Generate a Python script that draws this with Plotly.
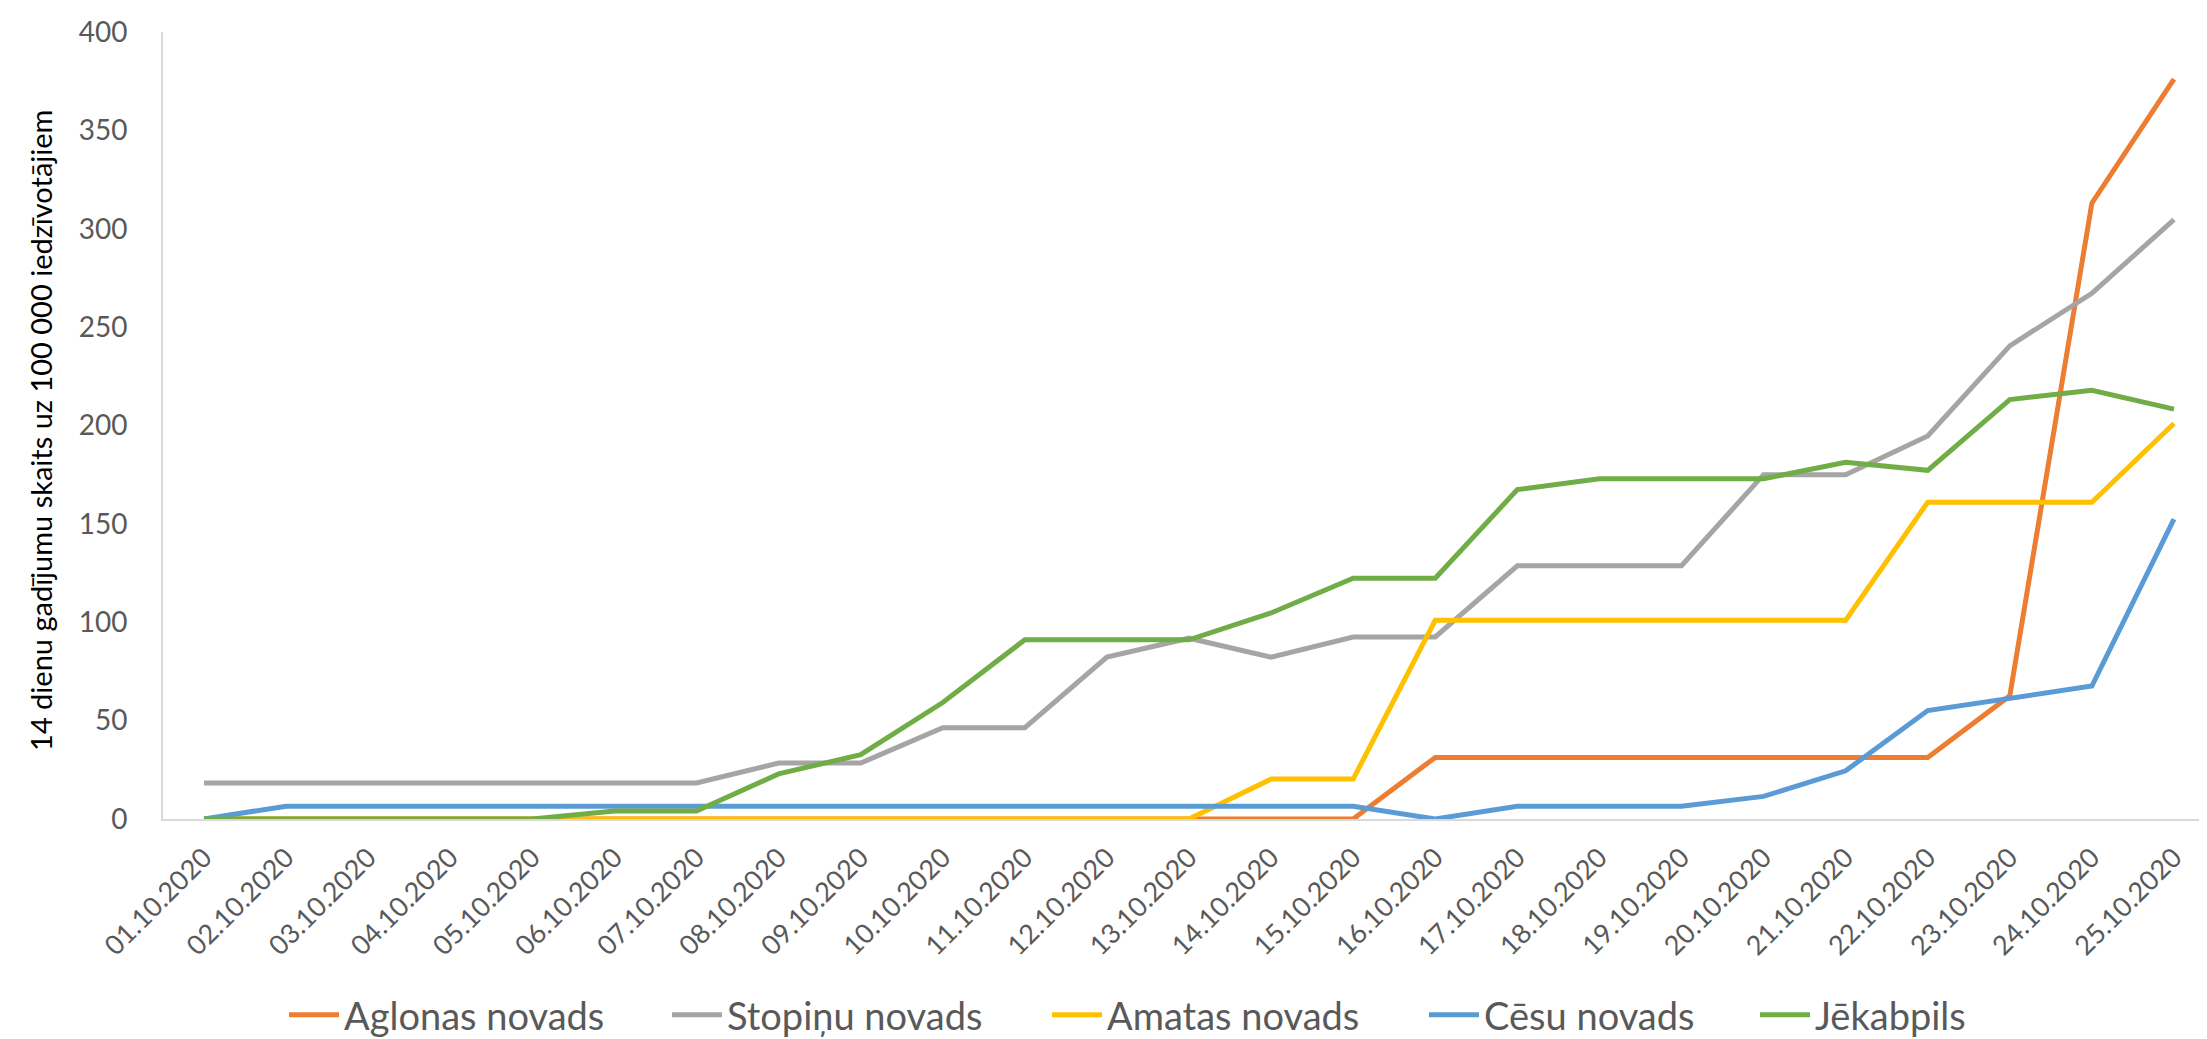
import plotly.graph_objects as go

dates = ["01.10.2020", "02.10.2020", "03.10.2020", "04.10.2020", "05.10.2020",
         "06.10.2020", "07.10.2020", "08.10.2020", "09.10.2020", "10.10.2020",
         "11.10.2020", "12.10.2020", "13.10.2020", "14.10.2020", "15.10.2020",
         "16.10.2020", "17.10.2020", "18.10.2020", "19.10.2020", "20.10.2020",
         "21.10.2020", "22.10.2020", "23.10.2020", "24.10.2020", "25.10.2020"]

aglonas = [0, 0, 0, 0, 0, 0, 0, 0, 0, 0, 0, 0, 0, 0, 0,
           31.3, 31.3, 31.3, 31.3, 31.3, 31.3, 31.3, 62.6, 313.0, 376.0]
stopinu = [18.3, 18.3, 18.3, 18.3, 18.3, 18.3, 18.3, 28.4, 28.4, 46.4,
           46.4, 82.3, 91.9, 82.3, 92.5, 92.5, 128.7, 128.7, 128.7, 175.0,
           175.0, 194.7, 240.5, 267.2, 304.6]
amatas = [0, 0, 0, 0, 0, 0, 0, 0, 0, 0, 0, 0, 0, 20.3, 20.3,
          101.0, 101.0, 101.0, 101.0, 101.0, 101.0, 161.0, 161.0, 161.0, 201.0]
cesu = [0, 6.5, 6.5, 6.5, 6.5, 6.5, 6.5, 6.5, 6.5, 6.5, 6.5, 6.5, 6.5, 6.5, 6.5,
        0, 6.5, 6.5, 6.5, 11.5, 24.5, 55.1, 61.3, 67.6, 152.4]
jekabpils = [0, 0, 0, 0, 0, 4.1, 4.1, 22.9, 32.7, 59.2, 91.1, 91.1, 91.1, 104.7,
             122.4, 122.4, 167.4, 172.9, 172.9, 172.9, 181.3, 177.2, 213.2, 217.9, 208.3]

series_names = ["Aglonas novads", "Stopiņu novads", "Amatas novads", "Cēsu novads", "Jēkabpils"]
series_values = [aglonas, stopinu, amatas, cesu, jekabpils]
series_colors = ["#ED7D31", "#A5A5A5", "#FFC000", "#5B9BD5", "#70AD47"]

FONT = "Lato"
TXT = "#595959"

W, H = 2207, 1039
L, R, T, B = 155, 0, 24, 220
pw = W - L - R
ph = H - T - B

# pixel x where each legend entry starts (layout, not data)
legend_px = [286, 669, 1049, 1426, 1757]
legend_py = 1017

fig = go.Figure()
layout_legends = {}
for i, (name, vals, col) in enumerate(zip(series_names, series_values, series_colors)):
    lname = "legend" if i == 0 else f"legend{i + 1}"
    fig.add_trace(go.Scatter(x=dates, y=vals, name=name, mode="lines",
                             line=dict(color=col, width=5), legend=lname))
    layout_legends[lname] = dict(
        orientation="h", x=(legend_px[i] - 10 - L) / pw, xanchor="left",
        y=(T + ph - legend_py) / ph, yanchor="middle",
        font=dict(size=38, color=TXT, family=FONT),
        bgcolor="rgba(0,0,0,0)", itemwidth=50)

fig.update_layout(
    width=W, height=H,
    margin=dict(l=L, r=R, t=T, b=B),
    paper_bgcolor="white", plot_bgcolor="white",
    font=dict(family=FONT, color=TXT),
    showlegend=True,
    xaxis=dict(type="category", range=[-0.5, 24.5], showline=True,
               linecolor="#D9D9D9", linewidth=2, showgrid=False, ticks="",
               tickangle=-45, tickfont=dict(size=27, color=TXT, family=FONT),
               ticklabelstandoff=10),
    yaxis=dict(range=[0, 400], dtick=50, showline=True, linecolor="#D9D9D9",
               linewidth=2, showgrid=False, zeroline=False, ticks="",
               tickfont=dict(size=28, color=TXT, family=FONT),
               ticklabelstandoff=28),
    annotations=[dict(text="14 dienu gadījumu skaits uz 100 000 iedzīvotājiem",
                      textangle=-90, xref="paper", yref="paper",
                      x=(33 - L) / pw, y=(T + ph - 427) / ph,
                      xanchor="center", yanchor="middle",
                      showarrow=False, font=dict(size=29, color="black", family=FONT))],
    **layout_legends,
)

fig.write_html("out.html")
